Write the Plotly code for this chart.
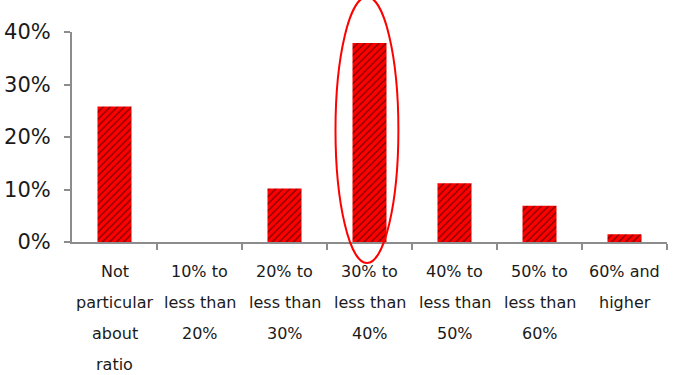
import plotly.graph_objects as go

# Survey answers: preferred ratio bands
categories = [
    "Not<br>particular<br>about<br>ratio",
    "10% to<br>less than<br>20%",
    "20% to<br>less than<br>30%",
    "30% to<br>less than<br>40%",
    "40% to<br>less than<br>50%",
    "50% to<br>less than<br>60%",
    "60% and<br>higher",
]
shares = [0.258, 0.0, 0.102, 0.379, 0.112, 0.069, 0.015]
y_ticks = [0, 0.1, 0.2, 0.3, 0.4]
y_tick_labels = ["0%", "10%", "20%", "30%", "40%"]
highlight_index = 3

FONT = "DejaVu Sans"
TEXT_COLOR = "#1a1a1a"
AXIS_COLOR = "#8c8c8c"

fig = go.Figure(
    go.Bar(
        x=list(range(len(categories))),
        y=shares,
        width=0.4,
        marker=dict(
            color="#ff0000",
            line=dict(width=0),
            pattern=dict(shape="/", fgcolor="#000000", bgcolor="#ff0000",
                         size=5, solidity=0.27, fillmode="overlay"),
        ),
        hoverinfo="skip",
    )
)

# Category labels: one annotation per line for wider line spacing
LINE_GAP = 31
annotations = []
for i, label in enumerate(categories):
    for k, line in enumerate(label.split("<br>")):
        annotations.append(dict(
            x=i, xref="x", y=0, yref="paper",
            text=line, showarrow=False,
            xanchor="center", yanchor="middle",
            yshift=-29 - LINE_GAP * k,
            font=dict(family=FONT, size=16, color=TEXT_COLOR),
        ))

# Ellipse around the highlighted category (paper coordinates from the index)
n = len(categories)
cx = (highlight_index + 0.5) / n
fig.add_shape(
    type="circle", xref="paper", yref="paper",
    x0=cx - 0.40 / n, x1=cx + 0.34 / n,
    y0=-0.10, y1=1.167,
    line=dict(color="#ff0000", width=2),
    fillcolor="rgba(0,0,0,0)",
    layer="above",
)

fig.update_layout(
    width=678, height=375,
    margin=dict(l=72, r=11, t=32, b=133),
    paper_bgcolor="white", plot_bgcolor="white",
    showlegend=False,
    annotations=annotations,
    xaxis=dict(
        range=[-0.5, n - 0.5],
        tickmode="array",
        tickvals=[i - 0.5 for i in range(1, n + 1)],
        showticklabels=False,
        ticks="outside", ticklen=6, tickwidth=2, tickcolor=AXIS_COLOR,
        showline=True, linecolor=AXIS_COLOR, linewidth=2,
        showgrid=False, zeroline=False, fixedrange=True,
        automargin=False,
    ),
    yaxis=dict(
        range=[0, 0.4],
        tickmode="array", tickvals=y_ticks, ticktext=y_tick_labels,
        ticks="outside", ticklen=6, tickwidth=2, tickcolor=AXIS_COLOR,
        ticklabelstandoff=9,
        showline=True, linecolor=AXIS_COLOR, linewidth=2,
        showgrid=False, zeroline=False, fixedrange=True,
        automargin=False,
        tickfont=dict(family=FONT, size=21, color=TEXT_COLOR),
    ),
)

fig.write_html("out.html", config={"displayModeBar": False})
